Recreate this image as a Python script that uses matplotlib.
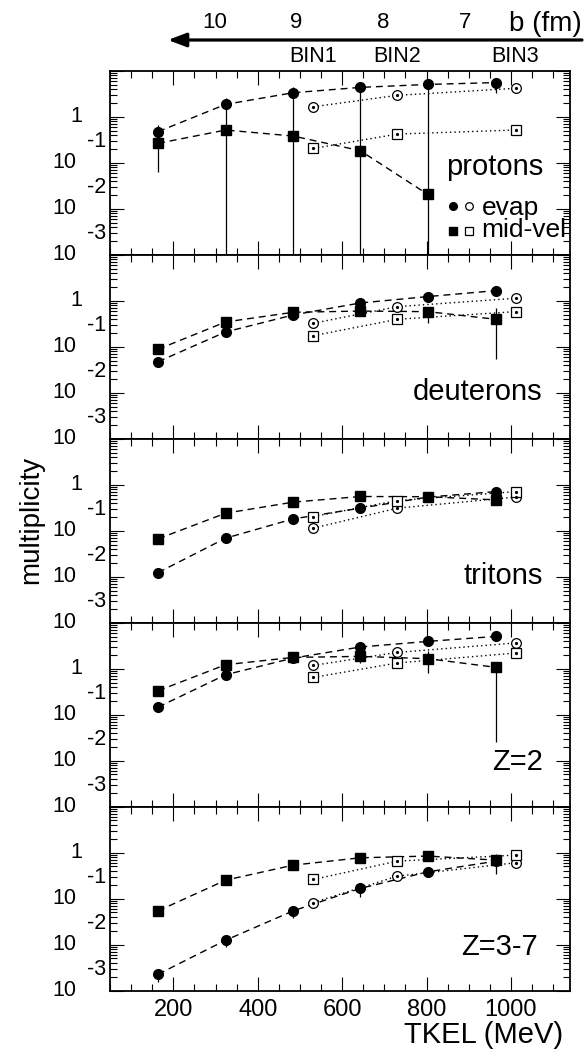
import numpy as np
import matplotlib
matplotlib.use('Agg')
import matplotlib.pyplot as plt
from matplotlib.transforms import blended_transform_factory, offset_copy
from matplotlib.patches import FancyArrowPatch, ArrowStyle
from matplotlib.ticker import MultipleLocator, LogLocator, NullFormatter

plt.rcParams['font.family'] = ['Liberation Sans', 'DejaVu Sans']

# ---------------- data ----------------
x_filled = [164, 324, 484, 643, 803, 964]   # TKEL (MeV) for filled symbols
x_open = [532, 731, 1011]                    # TKEL (MeV) for open symbols (BIN1-3)

panel_names = ['protons', 'deuterons', 'tritons', 'Z=2', 'Z=3-7']

# evaporation (filled circles)
evap_filled = [
    [0.48, 1.88, 3.37, 4.4, 5.1, 5.6],
    [0.0476, 0.211, 0.494, 0.90, 1.24, 1.67],
    [0.0123, 0.069, 0.181, 0.31, 0.54, 0.71],
    [0.146, 0.738, 1.70, 2.96, 3.92, 5.03],
    [0.00226, 0.0124, 0.054, 0.166, 0.381, 0.65],
]
evap_lo = [
    [0.48, 1.88, 3.37, 4.4, 5.1, 3.3],
    [0.0476, 0.211, 0.494, 0.90, 1.24, 1.67],
    [0.0123, 0.069, 0.181, 0.31, 0.54, 0.45],
    [0.146, 0.738, 1.70, 2.96, 3.92, 5.03],
    [0.00155, 0.0089, 0.037, 0.11, 0.381, 0.65],
]
evap_hi = [
    [0.67, 1.88, 3.37, 4.4, 5.1, 5.6],
    [0.0476, 0.211, 0.494, 0.90, 1.24, 1.67],
    [0.0123, 0.069, 0.181, 0.31, 0.54, 0.86],
    [0.146, 0.738, 1.70, 2.96, 3.92, 5.03],
    [0.00226, 0.0124, 0.054, 0.166, 0.381, 0.65],
]
# mid-velocity (filled squares)
mid_filled = [
    [0.267, 0.52, 0.385, 0.185, 0.0207],
    [0.0886, 0.348, 0.565, 0.60, 0.583, 0.398],
    [0.0667, 0.241, 0.419, 0.556, 0.55, 0.47],
    [0.331, 1.22, 1.76, 1.85, 1.65, 1.07],
    [0.054, 0.251, 0.533, 0.77, 0.84, 0.685],
]
mid_lo = [
    [0.064, 1e-4, 1e-4, 1e-4, 1e-4],
    [0.0886, 0.348, 0.565, 0.60, 0.33, 0.054],
    [0.0667, 0.241, 0.419, 0.556, 0.55, 0.37],
    [0.331, 1.22, 1.76, 1.35, 0.80, 0.026],
    [0.054, 0.251, 0.533, 0.65, 0.84, 0.35],
]
mid_hi = [
    [0.267, 2.55, 4.6, 5.9, 6.2],
    [0.0886, 0.348, 0.565, 0.60, 0.75, 0.69],
    [0.0667, 0.241, 0.419, 0.556, 0.55, 0.47],
    [0.331, 1.22, 1.76, 1.85, 2.38, 1.07],
    [0.054, 0.251, 0.533, 0.77, 0.84, 0.95],
]
# open symbols (BIN1..BIN3)
evap_open = [
    [1.67, 2.96, 4.2],
    [0.326, 0.75, 1.14],
    [0.114, 0.31, 0.54],
    [1.18, 2.26, 3.62],
    [0.082, 0.307, 0.60],
]
mid_open = [
    [0.207, 0.425, 0.52],
    [0.175, 0.398, 0.583],
    [0.204, 0.454, 0.71],
    [0.645, 1.33, 2.19],
    [0.26, 0.652, 0.88],
]

# impact-parameter scale on top
b_values = ['10', '9', '8', '7']
b_tkel = [299, 491, 697, 891]
bin_labels = ['BIN1', 'BIN2', 'BIN3']
bin_tkel = [532, 731, 1011]

y_exponents = [0, -1, -2, -3]

# ---------------- layout ----------------
W, H = 584, 1050
fig = plt.figure(figsize=(W / 100, H / 100), dpi=100)
left, right = 110, 570
top, bottom = 71, 990.5
ph = (bottom - top) / 5

dash = (5, 3.5)
dot = (1, 2.2)
axes = []
for i in range(5):
    y0 = top + i * ph
    ax = fig.add_axes([left / W, 1 - (y0 + ph) / H, (right - left) / W, ph / H])
    axes.append(ax)
    ax.set_yscale('log')
    ax.set_xlim(50, 1140)
    ax.set_ylim(1e-3, 10)
    ax.xaxis.set_major_locator(MultipleLocator(200))
    ax.xaxis.set_minor_locator(MultipleLocator(50))
    ax.yaxis.set_major_locator(LogLocator(base=10, numticks=10))
    ax.yaxis.set_minor_locator(LogLocator(base=10, subs=np.arange(2, 10), numticks=20))
    ax.yaxis.set_minor_formatter(NullFormatter())
    ax.tick_params(which='both', direction='in', top=True, right=True,
                   labelleft=False, labelbottom=(i == 4), width=0.8)
    ax.tick_params(which='major', length=10)
    ax.tick_params(which='minor', length=5)
    ax.tick_params(axis='x', labelsize=17, pad=6)
    for sp in ax.spines.values():
        sp.set_linewidth(1.3)

    xf = x_filled[:len(mid_filled[i])]
    # lines
    ax.plot(x_open, evap_open[i], ls=(0, dot), color='k', lw=1.0, zorder=2)
    ax.plot(x_open, mid_open[i], ls=(0, dot), color='k', lw=1.0, zorder=2)
    ax.plot(x_filled, evap_filled[i], ls=(0, dash), color='k', lw=1.0, zorder=2)
    ax.plot(xf, mid_filled[i], ls=(0, dash), color='k', lw=1.0, zorder=2)
    # error bars
    ev = np.array(evap_filled[i])
    ax.errorbar(x_filled, ev, yerr=[ev - np.array(evap_lo[i]), np.array(evap_hi[i]) - ev],
                fmt='none', ecolor='k', elinewidth=0.9, capsize=0, zorder=2)
    mv = np.array(mid_filled[i])
    ax.errorbar(xf, mv, yerr=[mv - np.array(mid_lo[i]), np.array(mid_hi[i]) - mv],
                fmt='none', ecolor='k', elinewidth=0.9, capsize=0, zorder=2)
    # markers
    ax.plot(x_filled, evap_filled[i], 'o', color='k', ms=7, ls='none', zorder=4)
    ax.plot(xf, mid_filled[i], 's', color='k', ms=6.7, ls='none', zorder=4)
    ax.plot(x_open, evap_open[i], 'o', mfc='white', mec='k', mew=0.9, ms=7, ls='none', zorder=4)
    ax.plot(x_open, mid_open[i], 's', mfc='white', mec='k', mew=0.9, ms=7, ls='none', zorder=4)
    ax.plot(x_open, evap_open[i], 'o', color='k', ms=1.3, ls='none', zorder=5)
    ax.plot(x_open, mid_open[i], 'o', color='k', ms=1.3, ls='none', zorder=5)

    # y tick labels (ROOT style: exponent above)
    tr = blended_transform_factory(fig.transFigure, ax.transData)
    tr_up = offset_copy(tr, fig=fig, x=0, y=21, units='dots')
    for e in y_exponents:
        if e == 0:
            ax.text(82 / W, 1.0, '1', transform=tr, ha='right', va='center',
                    fontsize=15.5, clip_on=False)
        else:
            ax.text(76 / W, 10.0 ** e, '10', transform=tr, ha='right', va='center',
                    fontsize=15.5, clip_on=False)
            ax.text(87 / W, 10.0 ** e, str(e), transform=tr_up, ha='left', va='center',
                    fontsize=15.5, clip_on=False)

# panel labels
label_pos = [(0.941, 0.480), (0.941, 0.252), (0.941, 0.252), (0.941, 0.245), (0.930, 0.238)]
for ax, name, (lx, ly) in zip(axes, panel_names, label_pos):
    ax.text(lx, ly, name, transform=ax.transAxes, ha='right', va='center', fontsize=21)

# legend in first panel
a0 = axes[0]
a0.plot([0.745], [0.265], 'o', color='k', ms=5.5, transform=a0.transAxes, clip_on=False)
a0.plot([0.781], [0.265], 'o', mfc='white', mec='k', mew=0.9, ms=5.5, transform=a0.transAxes, clip_on=False)
a0.plot([0.745], [0.128], 's', color='k', ms=5.3, transform=a0.transAxes, clip_on=False)
a0.plot([0.781], [0.128], 's', mfc='white', mec='k', mew=0.9, ms=5.3, transform=a0.transAxes, clip_on=False)
a0.text(0.808, 0.255, 'evap', transform=a0.transAxes, ha='left', va='center', fontsize=19)
a0.text(0.808, 0.133, 'mid-vel', transform=a0.transAxes, ha='left', va='center', fontsize=19)

# axis titles
fig.text(31 / W, 1 - 520 / H, 'multiplicity', rotation=90, ha='center', va='center', fontsize=20)
fig.text(563 / W, 1 - 1035 / H, 'TKEL (MeV)', ha='right', va='center', fontsize=21)

# top impact-parameter arrow
ya = 1 - 40 / H
arrow = FancyArrowPatch((582 / W, ya), (168 / W, ya), transform=fig.transFigure,
                        arrowstyle=ArrowStyle('-|>', head_length=1.1, head_width=0.42),
                        mutation_scale=10, lw=2.3, color='k', shrinkA=0, shrinkB=0)
fig.add_artist(arrow)
trb = blended_transform_factory(axes[0].transData, fig.transFigure)
for bv, bx in zip(b_values, b_tkel):
    axes[0].text(bx, 1 - 28 / H, bv, transform=trb, ha='center', va='baseline',
                 fontsize=16, clip_on=False)
fig.text(582 / W, 1 - 31 / H, 'b (fm)', ha='right', va='baseline', fontsize=20)
for bl, bx in zip(bin_labels, bin_tkel):
    axes[0].text(bx, 1 - 57 / H, bl, transform=trb, ha='center', va='center',
                 fontsize=15.5, clip_on=False)

fig.savefig('out.png', dpi=100)
